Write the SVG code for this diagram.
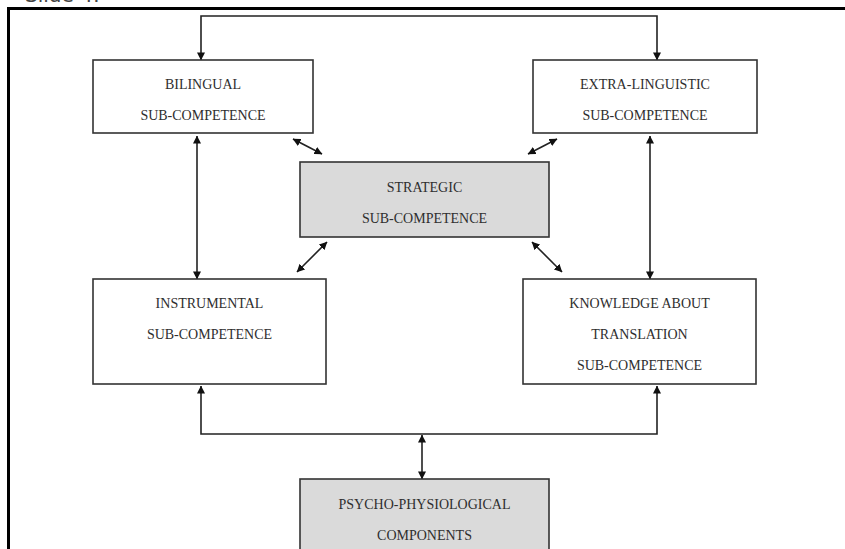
<svg xmlns="http://www.w3.org/2000/svg" width="845" height="549" viewBox="0 0 845 549">
  <style>
    .box { fill: #ffffff; stroke: #333333; stroke-width: 1.6; }
    .shaded { fill: #dadada; }
    .label { font-family: "Liberation Serif", "Times New Roman", serif; font-size: 14px; fill: #2e2e2e; text-anchor: middle; }
    .wire { fill: none; stroke: #222222; stroke-width: 1.6; }
  </style>
  <defs>
    <marker id="head" viewBox="0 0 10 10" refX="9.5" refY="5" markerWidth="8" markerHeight="8" markerUnits="userSpaceOnUse" orient="auto-start-reverse">
      <path d="M0,0 L10,5 L0,10 Z" fill="#111111"/>
    </marker>
  </defs>

  <rect width="845" height="549" fill="#ffffff"/>

  <!-- slide caption, clipped at the top edge -->
  <text x="25" y="2" font-family="DejaVu Sans, sans-serif" font-size="20" fill="#444444">Slide 4:</text>

  <!-- slide frame -->
  <path d="M8.5,549 V8.5 H845" fill="none" stroke="#000000" stroke-width="3"/>

  <g id="connectors">
    <!-- top link between bilingual and extra-linguistic -->
    <path class="wire" d="M201,60 V16 H657 V60" marker-start="url(#head)" marker-end="url(#head)"/>
    <!-- left and right verticals -->
    <line class="wire" x1="197" y1="136" x2="197" y2="279" marker-start="url(#head)" marker-end="url(#head)"/>
    <line class="wire" x1="650" y1="136" x2="650" y2="279" marker-start="url(#head)" marker-end="url(#head)"/>
    <!-- diagonals around the strategic box -->
    <line class="wire" x1="293" y1="139" x2="322" y2="154" marker-start="url(#head)" marker-end="url(#head)"/>
    <line class="wire" x1="528" y1="154" x2="557" y2="139" marker-start="url(#head)" marker-end="url(#head)"/>
    <line class="wire" x1="327" y1="242" x2="297" y2="272" marker-start="url(#head)" marker-end="url(#head)"/>
    <line class="wire" x1="532" y1="242" x2="562" y2="272" marker-start="url(#head)" marker-end="url(#head)"/>
    <!-- bottom bus to instrumental and knowledge -->
    <path class="wire" d="M201,386 V434 H657 V386" marker-start="url(#head)" marker-end="url(#head)"/>
    <line class="wire" x1="422" y1="435" x2="422" y2="479" marker-start="url(#head)" marker-end="url(#head)"/>
  </g>

  <g id="bilingual">
    <rect class="box" x="93" y="60" width="220" height="73"/>
    <text class="label" x="203" y="89">BILINGUAL</text>
    <text class="label" x="203" y="120">SUB-COMPETENCE</text>
  </g>

  <g id="extra-linguistic">
    <rect class="box" x="533" y="60" width="224" height="73"/>
    <text class="label" x="645" y="89">EXTRA-LINGUISTIC</text>
    <text class="label" x="645" y="120">SUB-COMPETENCE</text>
  </g>

  <g id="strategic">
    <rect class="box shaded" x="300" y="162" width="249" height="75"/>
    <text class="label" x="424.5" y="192">STRATEGIC</text>
    <text class="label" x="424.5" y="223">SUB-COMPETENCE</text>
  </g>

  <g id="instrumental">
    <rect class="box" x="93" y="279" width="233" height="105"/>
    <text class="label" x="209.5" y="308">INSTRUMENTAL</text>
    <text class="label" x="209.5" y="339">SUB-COMPETENCE</text>
  </g>

  <g id="knowledge">
    <rect class="box" x="523" y="279" width="233" height="105"/>
    <text class="label" x="639.5" y="308">KNOWLEDGE ABOUT</text>
    <text class="label" x="639.5" y="339">TRANSLATION</text>
    <text class="label" x="639.5" y="370">SUB-COMPETENCE</text>
  </g>

  <g id="psycho-physiological">
    <rect class="box shaded" x="300" y="479" width="249" height="90"/>
    <text class="label" x="424.5" y="509">PSYCHO-PHYSIOLOGICAL</text>
    <text class="label" x="424.5" y="540">COMPONENTS</text>
  </g>
</svg>
